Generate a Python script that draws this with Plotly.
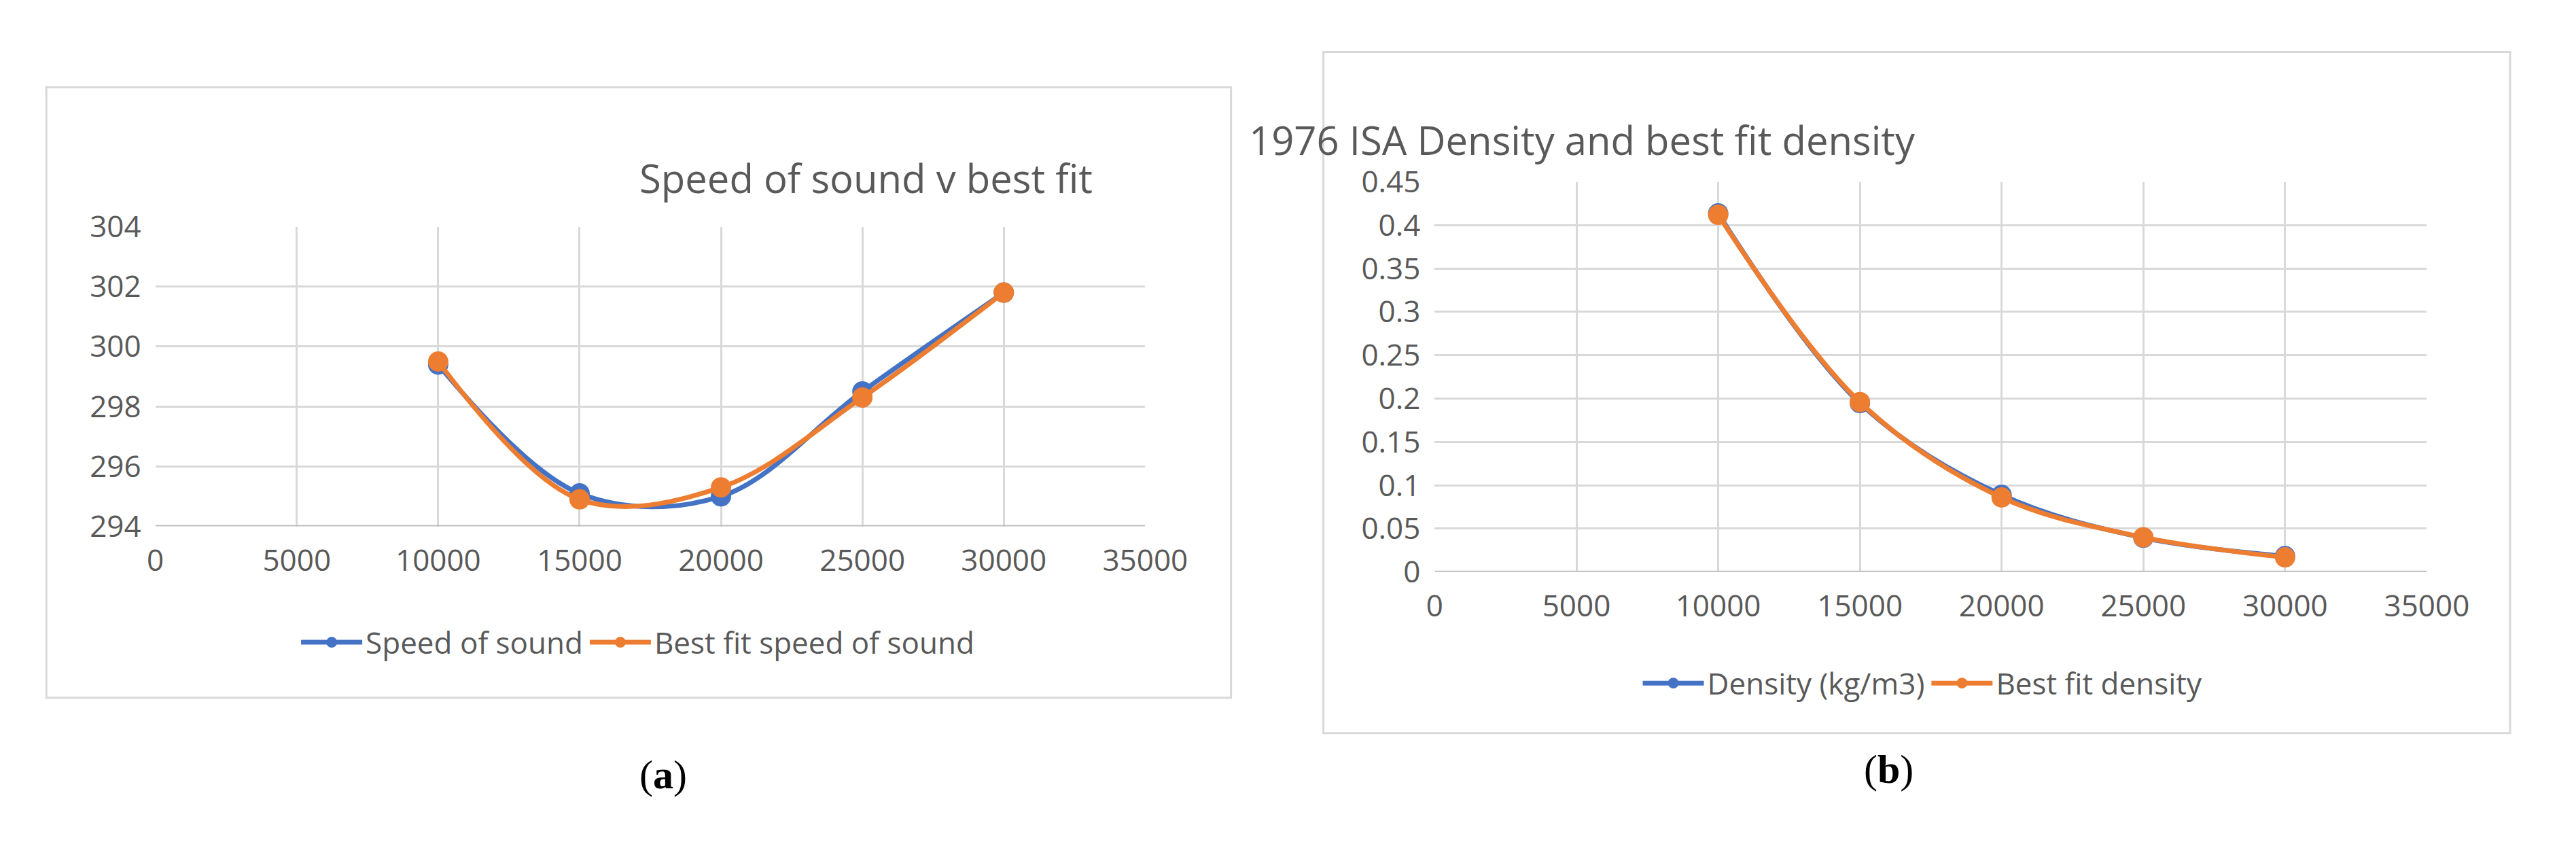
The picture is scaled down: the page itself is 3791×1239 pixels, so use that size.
import plotly.graph_objects as go

alt = [10000, 15000, 20000, 25000, 30000]
sos = [299.4, 295.1, 295.0, 298.5, 301.8]
sos_fit = [299.5, 294.9, 295.3, 298.3, 301.8]
dens = [0.4135, 0.1948, 0.0889, 0.0395, 0.0184]
dens_fit = [0.412, 0.196, 0.086, 0.040, 0.017]

BLUE = "#4472C4"
ORANGE = "#ED7D31"
GREY = "#595959"
F = "Open Sans"

fig = go.Figure()

def add(x, y, name, color, xa, ya, legend):
    fig.add_trace(go.Scatter(x=x, y=y, name=name, mode="lines+markers",
                             line=dict(color=color, width=7, shape="spline"),
                             marker=dict(color=color, size=30),
                             xaxis=xa, yaxis=ya, legend=legend))

add(alt, sos, "Speed of sound", BLUE, "x", "y", "legend")
add(alt, sos_fit, "Best fit speed of sound", ORANGE, "x", "y", "legend")
add(alt, dens, "Density (kg/m3)", BLUE, "x2", "y2", "legend2")
add(alt, dens_fit, "Best fit density", ORANGE, "x2", "y2", "legend2")

ax = dict(showgrid=True, gridcolor="#D9D9D9", gridwidth=3, zeroline=False,
          tickfont=dict(family=F, size=44, color=GREY), showline=False, ticks="",
          ticklabelstandoff=20)
fig.update_layout(
    width=3791, height=1239, paper_bgcolor="white", plot_bgcolor="white",
    margin=dict(l=0, r=0, t=0, b=0),
    xaxis=dict(ax, domain=[0.0559, 0.448], range=[0, 35000], dtick=5000, tickformat="d", anchor="y"),
    yaxis=dict(ax, domain=[0.377, 0.751], range=[294, 304], dtick=2, anchor="x"),
    xaxis2=dict(ax, domain=[0.5627, 0.9557], range=[0, 35000], dtick=5000, tickformat="d", anchor="y2"),
    yaxis2=dict(ax, domain=[0.320, 0.807], range=[0, 0.45], dtick=0.05, anchor="x2"),
    legend=dict(orientation="h", x=0.247, y=0.232, xanchor="center", yanchor="middle",
                font=dict(family=F, size=44, color=GREY), itemwidth=90),
    legend2=dict(orientation="h", x=0.756, y=0.181, xanchor="center", yanchor="middle",
                 font=dict(family=F, size=44, color=GREY), itemwidth=90),
    showlegend=True,
)
fig.add_shape(type="rect", xref="paper", yref="paper", x0=0.0127, x1=0.482, y0=0.163, y1=0.925,
              line=dict(color="#D9D9D9", width=3))
fig.add_shape(type="rect", xref="paper", yref="paper", x0=0.5186, x1=0.9887, y0=0.119, y1=0.969,
              line=dict(color="#D9D9D9", width=3))
fig.add_shape(type="line", xref="x", yref="y", x0=0, x1=35000, y0=294, y1=294, line=dict(color="#BFBFBF", width=4))
fig.add_shape(type="line", xref="x2", yref="y2", x0=0, x1=35000, y0=0, y1=0, line=dict(color="#BFBFBF", width=4))
fig.add_annotation(text="Speed of sound v best fit", xref="paper", yref="paper", x=0.247, y=0.847,
                   showarrow=False, font=dict(family=F, size=58, color=GREY))
fig.add_annotation(text="1976 ISA Density and best fit density", xref="paper", yref="paper", x=0.7536, y=0.895,
                   showarrow=False, font=dict(family=F, size=58, color=GREY))
fig.add_annotation(text="(<b>a</b>)", xref="paper", yref="paper", x=0.247, y=0.037,
                   showarrow=False, font=dict(family="Liberation Serif", size=60, color="black"))
fig.add_annotation(text="(<b>b</b>)", xref="paper", yref="paper", x=0.753, y=0.044,
                   showarrow=False, font=dict(family="Liberation Serif", size=60, color="black"))
fig.write_html("out.html")
